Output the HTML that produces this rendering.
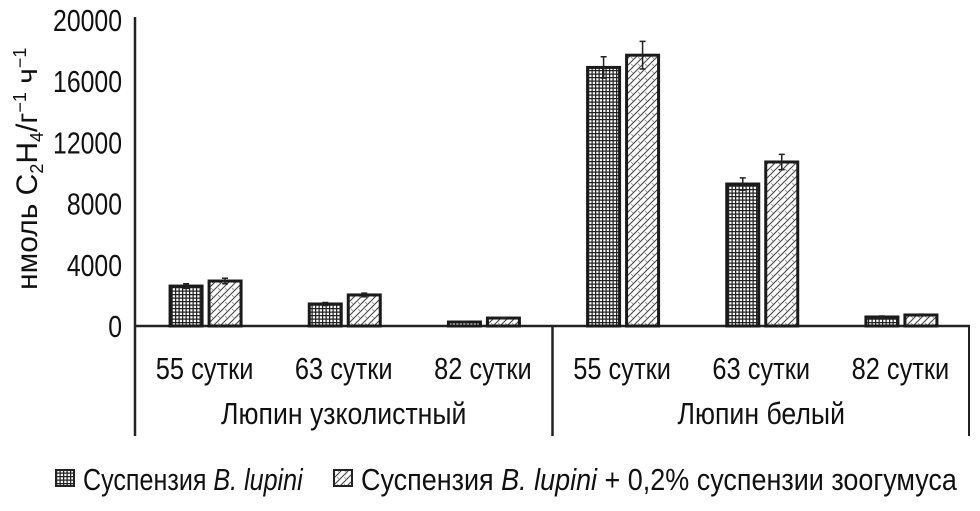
<!DOCTYPE html>
<html><head><meta charset="utf-8"><style>
html,body{margin:0;padding:0;background:#fff;}
svg text{font-family:"Liberation Sans","DejaVu Sans",sans-serif;fill:#111;}
</style></head><body>
<svg id="chart" width="980" height="506" viewBox="0 0 980 506" xmlns="http://www.w3.org/2000/svg">
<defs>
<pattern id="grid" width="3.5" height="3.5" patternUnits="userSpaceOnUse">
<rect width="3.5" height="3.5" fill="#fff"/>
<path d="M0 0.6H3.5M0.6 0V3.5" stroke="#222" stroke-width="1.3"/>
</pattern>
<pattern id="hatch" width="7" height="7" patternUnits="userSpaceOnUse">
<rect width="7" height="7" fill="#fff"/>
<path d="M0 7L7 0M-1 1L1 -1M6 8L8 6" stroke="#444" stroke-width="1.1"/>
<path d="M1 1L3 3" stroke="#888" stroke-width="0.8"/>
</pattern>
</defs>
<g id="marks"></g>
</svg>
<script>
const categories = ["55 сутки","63 сутки","82 сутки","55 сутки","63 сутки","82 сутки"];
const groups = ["Люпин узколистный","Люпин белый"];
const series1 = [2610, 1440, 260, 16900, 9280, 590];
const series2 = [2940, 2030, 520, 17700, 10720, 720];
const err1 = [150, 100, 40, 700, 400, 60];
const err2 = [180, 120, 50, 900, 500, 60];
const yTicks = [0, 4000, 8000, 12000, 16000, 20000];

const NS = "http://www.w3.org/2000/svg";
const g = document.getElementById("marks");
const x0 = 135, x1 = 970, yZero = 326, yTop = 20, yMax = 20000;
const y = v => yZero - (v / yMax) * (yZero - yTop);
const bandW = (x1 - x0) / categories.length;
const cx = i => x0 + bandW * (i + 0.5);
function el(tag, attrs, parent) {
  const e = document.createElementNS(NS, tag);
  for (const k in attrs) e.setAttribute(k, attrs[k]);
  (parent || g).appendChild(e);
  return e;
}
const FS = 31;
function sx(x, s) { return `translate(${x} 0) scale(${s} 1) translate(${-x} 0)`; }
// axes
let a = el("line", {x1: x0, y1: 17, x2: x0, y2: 436, stroke: "#222", "stroke-width": 2.5});


a = el("line", {x1: x0, y1: yZero, x2: x1, y2: yZero, stroke: "#222", "stroke-width": 2.5});


a = el("line", {x1: x0 + bandW * 3, y1: yZero, x2: x0 + bandW * 3, y2: 436, stroke: "#222", "stroke-width": 2.5});


a = el("line", {x1: x1 - 1, y1: yZero, x2: x1 - 1, y2: 436, stroke: "#222", "stroke-width": 2});


// y ticks
yTicks.forEach(t => {
  const tx = el("text", {x: 122, y: y(t) + 11, "text-anchor": "end", "font-size": FS, transform: sx(122, 0.8)});
  tx.textContent = t;
  
  
});
// y title
const yt = el("text", {x: 0, y: 0, "font-size": 30, transform: "translate(37 290) rotate(-90)"});
yt.innerHTML = 'нмоль C<tspan font-size="18" dy="6">2</tspan><tspan dy="-6">H</tspan><tspan font-size="18" dy="6">4</tspan><tspan dy="-6">/г</tspan><tspan font-size="18" dy="-11">−1</tspan><tspan dy="11"> ч</tspan><tspan font-size="18" dy="-11">−1</tspan>';


// bars
const bw = 32, gap = 7;
function bar(i, v, e, fill, off, name) {
  const bx = cx(i) + off;
  const r = el("rect", {x: bx, y: y(v), width: bw, height: yZero - y(v), fill: fill, stroke: "#1a1a1a", "stroke-width": 3});
  
  
  const m = bx + bw / 2;
  const eb = el("path", {d: `M${m} ${y(v + e)}V${y(v - e)}M${m - 3} ${y(v + e)}H${m + 3}M${m - 3} ${y(v - e)}H${m + 3}`, stroke: "#222", "stroke-width": 1.5, fill: "none"});
  
  
}
categories.forEach((c, i) => {
  bar(i, series1[i], err1[i], "url(#grid)", -bw - gap / 2 + 1, 'bar-b-lupini');
  bar(i, series2[i], err2[i], "url(#hatch)", gap / 2 + 1, 'bar-b-lupini-zoogumus');
  const t = el("text", {x: cx(i), y: 379, "text-anchor": "middle", "font-size": FS, transform: sx(cx(i), 0.82)});
  t.textContent = c;
  
  
});
groups.forEach((gname, j) => {
  const gx = x0 + bandW * (3 * j + 1.5);
  const t = el("text", {x: gx, y: 424, "text-anchor": "middle", "font-size": FS, transform: sx(gx, 0.86)});
  t.textContent = gname;
  
  
});
// legend
let s = el("rect", {x: 56, y: 470, width: 18, height: 16, fill: "url(#grid)", stroke: "#222", "stroke-width": 2});


let lt = el("text", {x: 83, y: 490, "font-size": FS, transform: sx(83, 0.81)});
lt.innerHTML = 'Суспензия <tspan font-style="italic">B. lupini</tspan>';


s = el("rect", {x: 334, y: 470, width: 18, height: 16, fill: "url(#hatch)", stroke: "#222", "stroke-width": 2});


lt = el("text", {x: 361, y: 490, "font-size": FS, transform: sx(361, 0.87)});
lt.innerHTML = 'Суспензия <tspan font-style="italic">B. lupini</tspan> + 0,2% суспензии зоогумуса';


</script>
</body></html>
